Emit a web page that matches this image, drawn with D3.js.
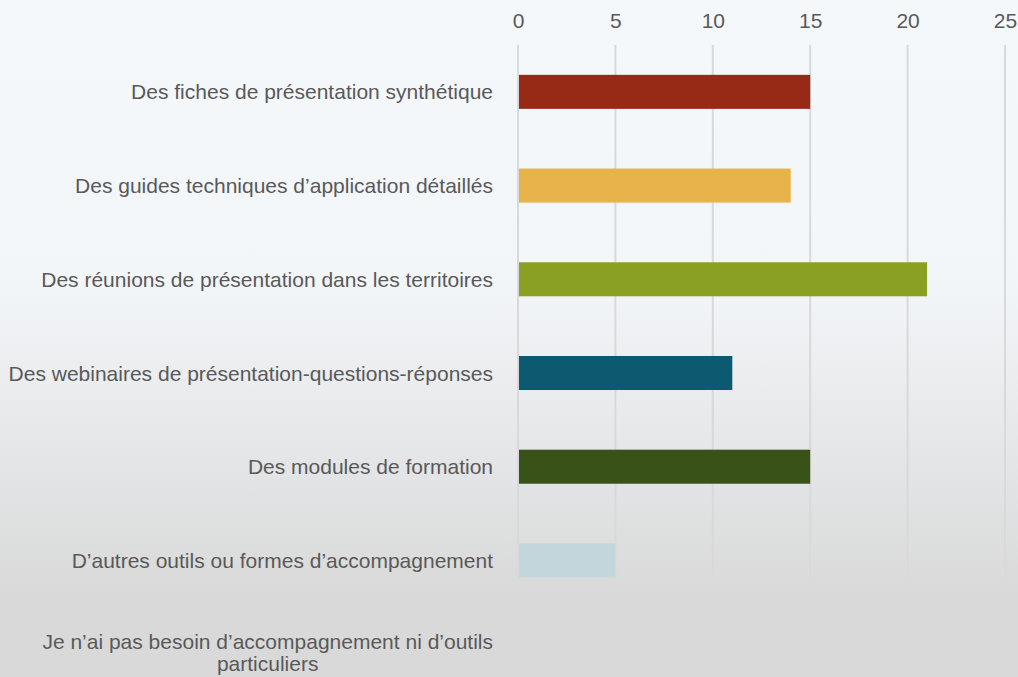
<!DOCTYPE html>
<html>
<head>
<meta charset="utf-8">
<script src="https://cdn.jsdelivr.net/npm/d3@7"></script>
<style>
html,body{margin:0;padding:0;overflow:hidden;}
svg{display:block;}
</style>
</head>
<body>
<script>
const categories = [
  "Des fiches de présentation synthétique",
  "Des guides techniques d’application détaillés",
  "Des réunions de présentation dans les territoires",
  "Des webinaires de présentation-questions-réponses",
  "Des modules de formation",
  "D’autres outils ou formes d’accompagnement",
  "Je n’ai pas besoin d’accompagnement ni d’outils particuliers"
];
const values = [15, 14, 21, 11, 15, 5, 0];
const barColors = ["#962a16", "#e8b34a", "#8aa022", "#0b5a70", "#385217", "#c3d6dc", "#999999"];
const tickValues = [0, 5, 10, 15, 20, 25];

const W = 1018, H = 677;
const svg = d3.select("body").append("svg").attr("width", W).attr("height", H);

const defs = svg.append("defs");
const grad = defs.append("linearGradient").attr("id", "bg").attr("x1", 0).attr("y1", 0).attr("x2", 0).attr("y2", 1);
grad.append("stop").attr("offset", "0").attr("stop-color", "#f5f8fb");
grad.append("stop").attr("offset", "0.41").attr("stop-color", "#f3f6f9");
grad.append("stop").attr("offset", "0.88").attr("stop-color", "#d9d9d9");
grad.append("stop").attr("offset", "1").attr("stop-color", "#d9d9d9");
svg.append("rect").attr("width", W).attr("height", H).attr("fill", "url(#bg)");

const x = d3.scaleLinear().domain([0, 25]).range([518, 1005]);
const y = d3.scaleBand().domain(categories).range([45, 701]).paddingInner(0.637).paddingOuter(0.3185);

const font = "'Liberation Sans', Arial, Helvetica, sans-serif";

// gridlines
svg.append("g").selectAll("line").data(tickValues).join("line")
  .attr("x1", d => x(d)).attr("x2", d => x(d))
  .attr("y1", 45).attr("y2", 578)
  .attr("stroke", "#d9d9d9").attr("stroke-width", 2);

// top axis labels
const axis = svg.append("g").attr("transform", "translate(0,38)")
  .call(d3.axisTop(x).tickValues(tickValues).tickSize(0).tickPadding(10));
axis.select(".domain").remove();
axis.selectAll("text").attr("fill", "#595959").style("font-family", font).style("font-size", "21px");

// bars
svg.append("g").selectAll("rect").data(values).join("rect")
  .attr("x", x(0) + 1)
  .attr("y", (d, i) => y(categories[i]))
  .attr("width", d => Math.max(0, x(d) - x(0) - 1))
  .attr("height", y.bandwidth())
  .attr("fill", (d, i) => barColors[i]);

// category labels
const wrapLines = [
  ["Des fiches de présentation synthétique"],
  ["Des guides techniques d’application détaillés"],
  ["Des réunions de présentation dans les territoires"],
  ["Des webinaires de présentation-questions-réponses"],
  ["Des modules de formation"],
  ["D’autres outils ou formes d’accompagnement"],
  ["Je n’ai pas besoin d’accompagnement ni d’outils", "particuliers"]
];
const labelG = svg.append("g");
categories.forEach((c, i) => {
  const cy = y(c) + y.bandwidth() / 2;
  const lines = wrapLines[i];
  const lh = 22;
  const t = labelG.append("text")
    .attr("fill", "#595959")
    .style("font-family", font).style("font-size", "21px");
  if (lines.length === 1) {
    t.attr("x", 493).attr("y", cy + 7.5).attr("text-anchor", "end").text(lines[0]);
  } else {
    // measure widest line, center lines in a right-aligned block
    const tmp = t.append("tspan").text(lines[0]);
    const w = tmp.node().getComputedTextLength();
    tmp.remove();
    const cx = 493 - w / 2;
    lines.forEach((ln, k) => {
      t.append("tspan").attr("x", cx).attr("text-anchor", "middle")
        .attr("y", cy + 7.5 - lh / 2 + k * lh - 2).text(ln);
    });
  }
});
</script>
</body>
</html>
